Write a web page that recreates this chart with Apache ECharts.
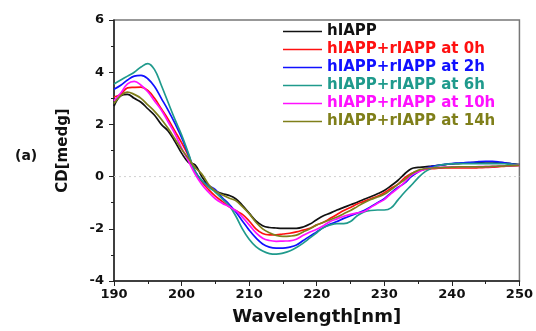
<!DOCTYPE html>
<html>
<head>
<meta charset="utf-8">
<script src="https://cdn.jsdelivr.net/npm/echarts@6/dist/echarts.min.js"></script>
<style>
html,body{margin:0;padding:0;background:#fff;}
#chart{width:536px;height:331px;}
</style>
</head>
<body>
<div id="chart"></div>
<script>
// Wavelength grid (nm)
const wavelengths = [190,191,192,193,194,195,196,197,198,199,200,201,202,203,204,205,206,207,208,209,210,211,212,213,214,215,216,217,218,219,220,221,222,223,224,225,226,227,228,229,230,231,232,233,234,235,236,237,238,239,240,241,242,243,244,245,246,247,248,249,250];

const seriesNames = ['hIAPP','hIAPP+rIAPP at 0h','hIAPP+rIAPP at 2h','hIAPP+rIAPP at 6h','hIAPP+rIAPP at 10h','hIAPP+rIAPP at 14h'];

const hIAPP = [2.7,3.1,3.15,3.0,2.85,2.6,2.35,2.0,1.75,1.35,0.9,0.55,0.45,0.0,-0.35,-0.55,-0.65,-0.72,-0.85,-1.1,-1.4,-1.7,-1.88,-1.95,-1.97,-1.98,-1.98,-1.98,-1.93,-1.82,-1.65,-1.5,-1.4,-1.28,-1.18,-1.08,-0.98,-0.87,-0.77,-0.66,-0.53,-0.35,-0.15,0.1,0.3,0.35,0.37,0.4,0.43,0.46,0.49,0.5,0.52,0.54,0.55,0.56,0.56,0.54,0.52,0.49,0.46];
const mix0h = [3.05,3.15,3.4,3.42,3.43,3.3,3.0,2.6,2.2,1.75,1.3,0.8,0.2,-0.2,-0.5,-0.75,-0.95,-1.15,-1.3,-1.45,-1.7,-2.0,-2.18,-2.23,-2.23,-2.2,-2.17,-2.12,-2.05,-1.98,-1.85,-1.75,-1.6,-1.45,-1.3,-1.18,-1.05,-0.95,-0.85,-0.75,-0.62,-0.45,-0.3,-0.05,0.12,0.22,0.28,0.3,0.32,0.33,0.33,0.33,0.33,0.33,0.34,0.35,0.36,0.38,0.4,0.41,0.43];
const mix2h = [3.35,3.5,3.7,3.85,3.88,3.75,3.45,3.0,2.55,2.05,1.5,0.85,0.2,-0.15,-0.35,-0.5,-0.8,-1.05,-1.35,-1.7,-2.05,-2.35,-2.58,-2.7,-2.74,-2.74,-2.7,-2.62,-2.45,-2.28,-2.12,-1.95,-1.82,-1.72,-1.6,-1.5,-1.4,-1.3,-1.15,-1.0,-0.85,-0.62,-0.42,-0.25,0.0,0.18,0.3,0.38,0.43,0.47,0.5,0.52,0.54,0.55,0.57,0.58,0.58,0.56,0.52,0.48,0.45];
const mix6h = [3.55,3.7,3.85,4.0,4.2,4.33,4.1,3.5,2.85,2.2,1.6,0.9,0.2,-0.15,-0.4,-0.6,-0.85,-1.1,-1.5,-2.0,-2.4,-2.68,-2.85,-2.95,-2.97,-2.93,-2.85,-2.72,-2.55,-2.35,-2.15,-1.95,-1.85,-1.8,-1.8,-1.72,-1.5,-1.35,-1.3,-1.28,-1.28,-1.2,-0.9,-0.6,-0.33,-0.05,0.18,0.32,0.42,0.47,0.49,0.5,0.5,0.5,0.5,0.5,0.5,0.5,0.49,0.47,0.45];
const mix10h = [2.9,3.2,3.55,3.65,3.5,3.25,2.9,2.55,2.1,1.65,1.1,0.6,0.1,-0.3,-0.6,-0.85,-1.02,-1.15,-1.3,-1.55,-1.85,-2.15,-2.36,-2.45,-2.48,-2.47,-2.46,-2.4,-2.25,-2.12,-2.02,-1.88,-1.72,-1.62,-1.52,-1.45,-1.39,-1.34,-1.18,-1.02,-0.88,-0.65,-0.45,-0.22,0.05,0.18,0.28,0.33,0.35,0.36,0.37,0.37,0.37,0.37,0.38,0.38,0.39,0.4,0.41,0.42,0.43];
const mix14h = [2.8,3.1,3.24,3.15,3.0,2.75,2.5,2.2,1.85,1.45,1.05,0.7,0.35,0.1,-0.3,-0.55,-0.7,-0.82,-0.92,-1.15,-1.42,-1.75,-2.0,-2.15,-2.25,-2.29,-2.28,-2.24,-2.12,-2.0,-1.85,-1.75,-1.65,-1.55,-1.42,-1.3,-1.15,-1.0,-0.88,-0.78,-0.68,-0.5,-0.3,-0.12,0.1,0.24,0.3,0.33,0.34,0.35,0.36,0.37,0.37,0.37,0.37,0.38,0.39,0.4,0.41,0.42,0.43];

const xTicks = [190,200,210,220,230,240,250];
const yTicks = [-4,-2,0,2,4,6];
const zeroRef = [[190, 0], [250, 0]];

const colors = ['#111111','#ff1010','#1010ff','#1f9a8c','#ff10ff','#7f7f1a'];
const valueSets = [hIAPP, mix0h, mix2h, mix6h, mix10h, mix14h];

const font = 'DejaVu Sans';
const chart = echarts.init(document.getElementById('chart'), null, {renderer:'canvas'});

const series = [{
  name: 'zero',
  type: 'line',
  data: zeroRef,
  symbol: 'none',
  silent: true,
  z: 1,
  lineStyle: {color: '#d0d0d0', type: [2, 3], width: 1},
  itemStyle: {color: '#d0d0d0'}
}].concat(seriesNames.map((name, i) => ({
  name: name,
  type: 'line',
  data: wavelengths.map((w, j) => [w, valueSets[i][j]]),
  smooth: 0.4,
  symbol: 'none',
  lineStyle: {color: colors[i], width: 1.7},
  itemStyle: {color: colors[i]},
  z: 3
})));

chart.setOption({
  animation: false,
  backgroundColor: '#fff',
  grid: {left: 114, right: 14, top: 20, bottom: 48, show: true, borderColor: '#777', borderWidth: 1.5},
  legend: {
    orient: 'vertical',
    left: 283,
    top: 24,
    padding: 0,
    icon: 'rect',
    itemWidth: 39,
    itemHeight: 1.5,
    itemGap: 3,
    textStyle: {fontFamily: font, fontWeight: 'bold', fontSize: 15},
    data: seriesNames.map((n, i) => ({name: n, textStyle: {color: colors[i]}}))
  },
  xAxis: {
    type: 'value',
    min: 190, max: 250, interval: 10,
    name: 'Wavelength[nm]',
    nameLocation: 'middle',
    nameGap: 27,
    nameTextStyle: {fontFamily: font, fontWeight: 'bold', fontSize: 18, color: '#111'},
    axisLine: {show: true, onZero: false, lineStyle: {color: '#222', width: 1.5}},
    axisTick: {show: true, inside: false, length: 5, lineStyle: {color: '#222'}},
    minorTick: {show: true, splitNumber: 2, length: 3, lineStyle: {color: '#222'}},
    axisLabel: {fontFamily: font, fontWeight: 'bold', fontSize: 13, color: '#111', margin: 7,
      formatter: v => xTicks.includes(v) ? String(v) : ''},
    splitLine: {show: false}
  },
  yAxis: {
    type: 'value',
    min: -4, max: 6, interval: 2,
    name: 'CD[medg]',
    nameLocation: 'middle',
    nameGap: 43,
    nameTextStyle: {fontFamily: font, fontWeight: 'bold', fontSize: 15, color: '#111'},
    axisLine: {show: true, onZero: false, lineStyle: {color: '#222', width: 1.5}},
    axisTick: {show: true, inside: false, length: 5, lineStyle: {color: '#222'}},
    minorTick: {show: true, splitNumber: 2, length: 3, lineStyle: {color: '#222'}},
    axisLabel: {fontFamily: font, fontWeight: 'bold', fontSize: 13, color: '#111', margin: 10,
      formatter: v => yTicks.includes(v) ? String(v) : ''},
    splitLine: {show: false}
  },
  graphic: [{
    type: 'text',
    left: 15, top: 149,
    style: {text: '(a)', font: 'bold 14px "DejaVu Sans"', fill: '#111'}
  }],
  series: series
});
</script>
</body>
</html>
